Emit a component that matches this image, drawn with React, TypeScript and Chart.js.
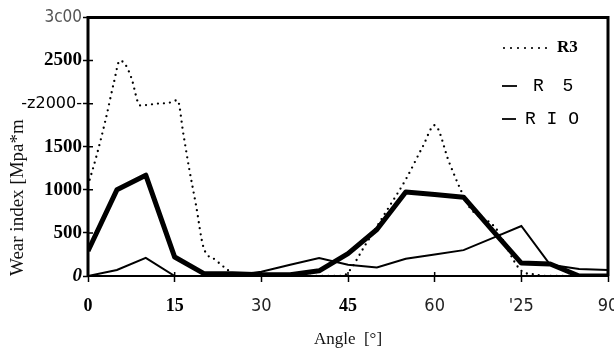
import React, { useEffect, useRef } from "react";
import { Chart, registerables } from "chart.js";

Chart.register(...registerables);

// ---- data ----
const angles = [0, 5, 10, 15, 20, 25, 30, 35, 40, 45, 50, 55, 60, 65, 70, 75, 80, 85, 90];
const r5Values = [290, 1000, 1170, 220, 30, 25, 15, 15, 60, 260, 540, 975, 945, 915, 530, 150, 140, 0, 0];
const r10Values = [0, 70, 210, 0, 0, 5, 50, 130, 210, 130, 100, 200, 250, 300, 440, 580, 130, 80, 70];

const r3Angles = [0, 1.5, 3, 4.5, 5.5, 6.5, 7.5, 9, 12, 14, 15.5, 16.5, 17.5, 18.7, 20, 22, 24, 26, 30, 35, 40, 44, 45, 48, 52, 55, 58, 60, 62.5, 64.5, 66, 70.5, 75, 77, 80, 85, 90];
const r3Values = [1050, 1400, 1800, 2250, 2500, 2450, 2300, 1980, 2000, 2010, 2040, 1650, 1250, 820, 330, 190, 80, 0, 0, 0, 0, 0, 40, 360, 790, 1120, 1510, 1750, 1320, 1000, 800, 560, 60, 20, 0, 0, 0];

const seriesLabels = ["R3", "R 5", "R I O"];
const xTickLabels = ["0", "15", "30", "45", "60", "'25", "90"];
const yTickLabels = ["0", "500", "1000", "1500", "-z2000-", "2500", "3c00"];
const xTitle = "Angle  [°]";
const yTitle = "Wear index [Mpa*m";

const SERIF = '"Liberation Serif", "Times New Roman", serif';
const NARROW = '"Liberation Sans Narrow", "DejaVu Sans Condensed", sans-serif';
const MONO = '"Liberation Mono", "DejaVu Sans Mono", monospace';

const xTickFonts = [
  { family: SERIF, size: 18, weight: "bold" },
  { family: SERIF, size: 18, weight: "bold" },
  { family: NARROW, size: 18, weight: "normal" },
  { family: SERIF, size: 18, weight: "bold" },
  { family: NARROW, size: 18, weight: "normal" },
  { family: NARROW, size: 18, weight: "normal" },
  { family: NARROW, size: 18, weight: "normal" },
];
const yTickFonts = [
  { family: SERIF, size: 19, weight: "bold", style: "italic" },
  { family: SERIF, size: 19, weight: "bold" },
  { family: SERIF, size: 19, weight: "bold" },
  { family: SERIF, size: 19, weight: "bold" },
  { family: '"DejaVu Sans", sans-serif', size: 16, weight: "normal" },
  { family: SERIF, size: 19, weight: "bold" },
  { family: NARROW, size: 17, weight: "normal" },
];

const framePlugin = {
  id: "frame",
  afterDraw(chart: any) {
    const { ctx, chartArea } = chart;
    const { left, right, top, bottom } = chartArea;
    ctx.save();
    ctx.strokeStyle = "#000";
    ctx.lineWidth = 3;
    ctx.beginPath();
    ctx.moveTo(left, bottom);
    ctx.lineTo(left, top);
    ctx.lineTo(right, top);
    ctx.lineTo(right, bottom);
    ctx.stroke();
    ctx.lineWidth = 2;
    ctx.beginPath();
    ctx.moveTo(left, bottom);
    ctx.lineTo(right, bottom);
    ctx.stroke();
    // inner tick marks
    ctx.lineWidth = 1.5;
    ctx.beginPath();
    const ys = chart.scales.y;
    ys.ticks.forEach((t: any) => {
      const p = ys.getPixelForValue(t.value);
      ctx.moveTo(left, p);
      ctx.lineTo(left + 5, p);
    });
    const xs = chart.scales.x;
    xs.ticks.forEach((t: any) => {
      const p = xs.getPixelForValue(t.value);
      ctx.moveTo(p, bottom);
      ctx.lineTo(p, bottom - 4);
    });
    ctx.stroke();
    ctx.restore();
  },
};

const legendPlugin = {
  id: "customLegend",
  afterDraw(chart: any) {
    const { ctx } = chart;
    const ds = chart.data.datasets;
    ctx.save();
    ctx.fillStyle = "#000";
    ctx.strokeStyle = "#000";
    ctx.textBaseline = "middle";
    ctx.textAlign = "left";
    // row 1: dotted
    ctx.lineWidth = 2.2;
    ctx.lineCap = "round";
    ctx.setLineDash([0, 7]);
    ctx.beginPath();
    ctx.moveTo(504, 48);
    ctx.lineTo(553, 48);
    ctx.stroke();
    ctx.setLineDash([]);
    ctx.font = `bold 17px ${SERIF}`;
    ctx.fillText(ds[0].label, 557, 48);
    // row 2
    ctx.lineCap = "butt";
    ctx.lineWidth = 1.8;
    ctx.beginPath();
    ctx.moveTo(502, 86);
    ctx.lineTo(517, 86);
    ctx.stroke();
    ctx.font = `18px ${MONO}`;
    (ctx as any).letterSpacing = "4px";
    ctx.fillText(ds[1].label, 533, 86);
    (ctx as any).letterSpacing = "0px";
    // row 3
    ctx.beginPath();
    ctx.moveTo(502, 119);
    ctx.lineTo(516, 119);
    ctx.stroke();
    ctx.fillText(ds[2].label, 525, 119);
    ctx.restore();
  },
};

export default function App() {
  const canvasRef = useRef<HTMLCanvasElement | null>(null);

  useEffect(() => {
    if (!canvasRef.current) return;
    const chart = new Chart(canvasRef.current, {
      type: "line",
      data: {
        datasets: [
          {
            label: seriesLabels[0],
            data: r3Angles.map((a, i) => ({ x: a, y: r3Values[i] })),
            borderColor: "#000",
            borderWidth: 2.3,
            borderDash: [0, 6],
            borderCapStyle: "round",
            pointRadius: 0,
            cubicInterpolationMode: "monotone",
          },
          {
            label: seriesLabels[1],
            data: angles.map((a, i) => ({ x: a, y: r5Values[i] })),
            borderColor: "#000",
            borderWidth: 5,
            borderJoinStyle: "round",
            pointRadius: 0,
          },
          {
            label: seriesLabels[2],
            data: angles.map((a, i) => ({ x: a, y: r10Values[i] })),
            borderColor: "#000",
            borderWidth: 2,
            pointRadius: 0,
          },
        ],
      } as any,
      options: {
        animation: false,
        responsive: true,
        maintainAspectRatio: false,
        layout: { padding: { top: 17.5, right: 6, left: 0, bottom: 0 } },
        plugins: {
          legend: { display: false },
          tooltip: { enabled: false },
        },
        scales: {
          x: {
            type: "linear",
            min: 0,
            max: 90,
            afterFit(scale: any) {
              scale.height = 82;
              scale.paddingLeft = 0;
              scale.paddingRight = 0;
            },
            border: { display: false },
            grid: {
              drawOnChartArea: false,
              drawTicks: true,
              tickLength: 6,
              tickWidth: 1.5,
              tickColor: "#000",
            },
            ticks: {
              stepSize: 15,
              maxRotation: 0,
              padding: 14,
              color: (c: any) => (c.index === 0 || c.index === 1 || c.index === 3 ? "#000" : "#222"),
              font: (c: any) => xTickFonts[c.index] as any,
              callback: (_v: any, i: number) => xTickLabels[i],
            },
            title: {
              display: true,
              text: xTitle,
              color: "#111",
              font: { family: SERIF, size: 17 },
              padding: { top: 0, bottom: 8 },
            },
          },
          y: {
            type: "linear",
            min: 0,
            max: 3000,
            afterFit(scale: any) {
              scale.width = 88;
              scale.paddingTop = 0;
              scale.paddingBottom = 0;
            },
            border: { display: false },
            grid: {
              drawOnChartArea: false,
              drawTicks: true,
              tickLength: 5,
              tickWidth: 1.5,
              tickColor: "#000",
            },
            ticks: {
              stepSize: 500,
              padding: 1,
              color: (c: any) => (c.index === 6 ? "#555" : "#000"),
              font: (c: any) => yTickFonts[c.index] as any,
              callback: (_v: any, i: number) => yTickLabels[i],
            },
            title: {
              display: true,
              text: yTitle,
              align: "start",
              color: "#111",
              font: { family: SERIF, size: 19 },
              padding: { top: 7, bottom: 0 },
            },
          },
        },
      } as any,
      plugins: [framePlugin, legendPlugin],
    });
    return () => chart.destroy();
  }, []);

  return (
    <div style={{ position: "fixed", left: 0, top: 0, width: 614, height: 358, background: "#fff" }}>
      <canvas ref={canvasRef} />
    </div>
  );
}
